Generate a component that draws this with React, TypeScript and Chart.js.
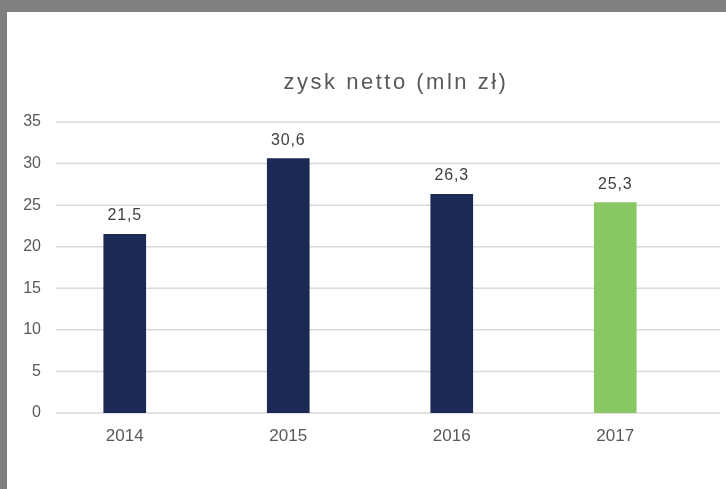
import React, { useEffect, useRef } from "react";
import { Chart, registerables } from "chart.js";

Chart.register(...registerables);

const categories = ["2014", "2015", "2016", "2017"];
const values = [21.5, 30.6, 26.3, 25.3];
const barColors = ["#1b2954", "#1b2954", "#1b2954", "#89c765"];
const yTicks = [0, 5, 10, 15, 20, 25, 30, 35];
const titleText = "zysk netto (mln zł)";

const FONT = "'Liberation Sans', Arial, sans-serif";

export default function App() {
  const ref = useRef<HTMLCanvasElement | null>(null);

  useEffect(() => {
    const canvas = ref.current;
    if (!canvas) return;

    const gridPlugin = {
      id: "customGrid",
      beforeDatasetsDraw(chart: any) {
        const ctx = chart.ctx;
        const y = chart.scales.y;
        ctx.save();
        ctx.strokeStyle = "#d9d9d9";
        ctx.lineWidth = 1.5;
        yTicks.forEach((v) => {
          const py = y.getPixelForValue(v);
          ctx.beginPath();
          ctx.moveTo(56, py);
          ctx.lineTo(720, py);
          ctx.stroke();
        });
        ctx.restore();
      },
    };

    const labelPlugin = {
      id: "labelsTitle",
      afterDatasetsDraw(chart: any) {
        const ctx = chart.ctx;
        const meta = chart.getDatasetMeta(0);
        ctx.save();
        ctx.fillStyle = "#404040";
        ctx.font = `16px ${FONT}`;
        ctx.textAlign = "center";
        ctx.textBaseline = "alphabetic";
        try { (ctx as any).letterSpacing = "0.8px"; } catch (e) {}
        meta.data.forEach((bar: any, i: number) => {
          const txt = values[i].toFixed(1).replace(".", ",");
          ctx.fillText(txt, bar.x, bar.y - 14);
        });
        ctx.fillStyle = "#595959";
        ctx.font = `22px ${FONT}`;
        try { (ctx as any).letterSpacing = "2.5px"; } catch (e) {}
        ctx.fillText(titleText, 396, 89);
        ctx.restore();
      },
    };

    const chart = new Chart(canvas, {
      type: "bar",
      data: {
        labels: categories,
        datasets: [
          {
            data: values,
            backgroundColor: barColors,
            barThickness: 42,
          },
        ],
      },
      options: {
        animation: false,
        responsive: false,
        maintainAspectRatio: false,
        layout: { padding: { top: 122, right: 29, bottom: 0, left: 0 } },
        plugins: {
          legend: { display: false },
          title: { display: false },
          tooltip: { enabled: false },
        },
        scales: {
          x: {
            grid: { display: false, drawTicks: false },
            border: { display: false },
            ticks: {
              color: "#595959",
              font: { family: FONT, size: 17 },
              padding: 13,
            },
            afterFit(scale: any) {
              scale.height = 76;
            },
          },
          y: {
            min: 0,
            max: 35,
            grid: { display: false, drawTicks: false },
            border: { display: false },
            ticks: {
              stepSize: 5,
              color: "#595959",
              font: { family: FONT, size: 16 },
              padding: 2,
            },
            afterFit(scale: any) {
              scale.width = 43;
            },
          },
        },
      },
      plugins: [gridPlugin, labelPlugin],
    });

    return () => chart.destroy();
  }, []);

  return (
    <div style={{ position: "fixed", left: 0, top: 0, width: 726, height: 489, background: "#808080", overflow: "hidden" }}>
      <div style={{ position: "absolute", left: 7, top: 12, right: 0, bottom: 0, background: "#ffffff" }} />
      <canvas
        ref={ref}
        width={726}
        height={489}
        style={{ position: "absolute", left: 0, top: 0, width: 726, height: 489 }}
      />
    </div>
  );
}
